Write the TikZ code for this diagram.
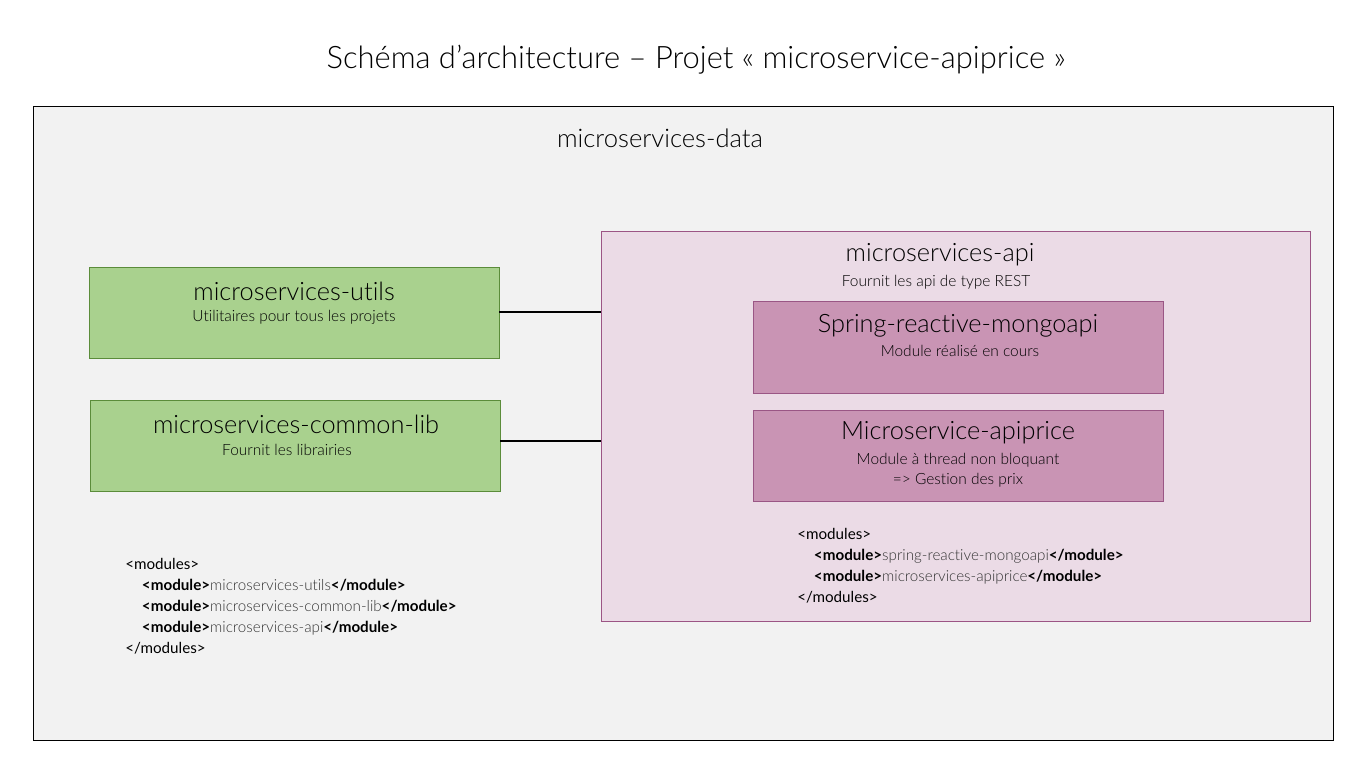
\documentclass[tikz,border=0pt]{standalone}
\usepackage{fontspec}
\setmainfont{Lato}[UprightFont=* Light, BoldFont=* Bold, Ligatures={NoCommon}]
\newfontfamily\regfont{Lato}[Ligatures={NoCommon}]
\definecolor{outerfill}{HTML}{F2F2F2}
\definecolor{greenfill}{HTML}{A9D18E}
\definecolor{greenline}{HTML}{5B8C3A}
\definecolor{pinkfill}{HTML}{EBDBE6}
\definecolor{pinkline}{HTML}{9C5585}
\definecolor{mauvefill}{HTML}{C994B4}
\definecolor{mauveline}{HTML}{9A5685}
\definecolor{graytext}{HTML}{333333}
\tikzset{
  greenbox/.style={draw=greenline, fill=greenfill, line width=0.7pt},
  pinkbox/.style={draw=pinkline, fill=pinkfill, line width=0.7pt},
  mauvebox/.style={draw=mauveline, fill=mauvefill, line width=0.7pt},
  bigtitle/.style={font=\fontsize{23.2}{27}\selectfont, inner sep=0pt},
  datatitle/.style={font=\fontsize{19.2}{23}\selectfont, inner sep=0pt},
  boxtitle/.style={font=\fontsize{19}{23}\selectfont, inner sep=0pt},
  subtitle/.style={font=\fontsize{11.6}{15}\selectfont, inner sep=0pt, align=center},
  xmltext/.style={font=\fontsize{11.4}{15.7}\selectfont, inner sep=0pt, align=left, anchor=north west},
  link/.style={line width=1.4pt, black}
}
\newcommand{\tg}[1]{\textbf{#1}}
\newcommand{\nm}[1]{\textcolor{graytext}{#1}}
\begin{document}
\begin{tikzpicture}[x=0.75pt, y=-0.75pt]
\useasboundingbox (0,0) rectangle (1360,759);
\fill[white] (0,0) rectangle (1360,759);
\node[bigtitle] (title) at (696,60) {Schéma d’architecture – Projet « microservice-apiprice »};
% outer
\draw[fill=outerfill, line width=0.75pt] (33,107) rectangle (1333,740);
\node[datatitle] (data) at (660,138) {microservices-data};
% green boxes
\draw[greenbox] (89,267) rectangle (499,358);
\coordinate (utilsE) at (499,312);
\node[boxtitle] (utils) at (294,291) {microservices-utils};
\node[subtitle] (utilsS) at (294,317) {Utilitaires pour tous les projets};
\draw[greenbox] (90,400) rectangle (500,491);
\coordinate (commonE) at (500,441);
\node[boxtitle] (common) at (296,424) {microservices-common-lib};
\node[subtitle] (commonS) at (287,450) {Fournit les librairies};
% pink box
\draw[pinkbox] (601,231) rectangle (1310,621);
\coordinate (apiW1) at (601,312);
\coordinate (apiW2) at (601,441);
\node[boxtitle] (api) at (940,255) {microservices-api};
\node[subtitle] (apiS) at (936,282) {Fournit les api de type REST};
\draw[mauvebox] (753,301) rectangle (1163,393);
\node[boxtitle] (spring) at (958,326) {Spring-reactive-mongoapi};
\node[subtitle] (springS) at (960,351) {Module réalisé en cours};
\draw[mauvebox] (753,410) rectangle (1163,501);
\node[boxtitle] (price) at (958,433) {Microservice-apiprice};
\node[subtitle] (priceS) at (958,470) {Module à thread non bloquant\\=> Gestion des prix};
% links
\draw[link] (utilsE) -- (apiW1);
\draw[link] (commonE) -- (apiW2);
% xml
\node[xmltext] (xmlright) at (797,528) {{\regfont <modules>}\\
\hspace*{1.1em}\tg{<module>}\nm{spring-reactive-mongoapi}\tg{</module>}\\
\hspace*{1.1em}\tg{<module>}\nm{microservices-apiprice}\tg{</module>}\\
{\regfont </modules>}};
\node[xmltext] (xmlleft) at (125,558) {{\regfont <modules>}\\
\hspace*{1.1em}\tg{<module>}\nm{microservices-utils}\tg{</module>}\\
\hspace*{1.1em}\tg{<module>}\nm{microservices-common-lib}\tg{</module>}\\
\hspace*{1.1em}\tg{<module>}\nm{microservices-api}\tg{</module>}\\
{\regfont </modules>}};
\end{tikzpicture}
\end{document}
